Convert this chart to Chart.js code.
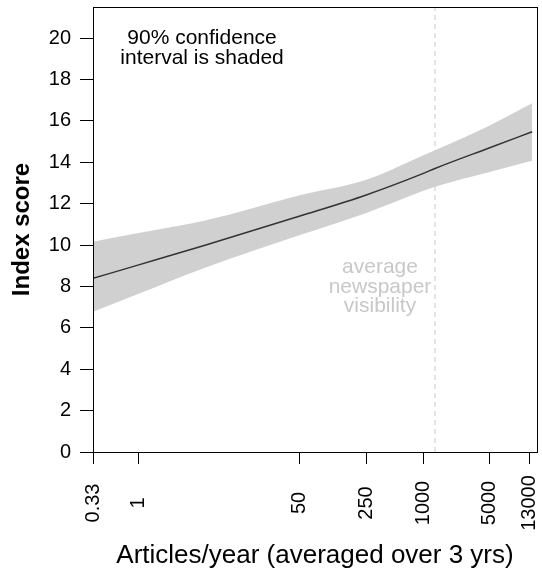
<!DOCTYPE html>
<html>
<head>
<meta charset="utf-8">
<script src="https://cdn.jsdelivr.net/npm/chart.js@4/dist/chart.umd.min.js"></script>
<style>
  html, body { margin: 0; padding: 0; background: #ffffff; }
  canvas { display: block; }
</style>
</head>
<body>
<canvas id="c" width="542" height="572"></canvas>
<script>
// ---- data ----
const articlesPerYear = [0.33, 1, 5, 50, 250, 1000, 1326, 5000, 14000];
const fittedScore     = [8.39, 9.04, 9.99, 11.40, 12.42, 13.46, 13.70, 14.70, 15.47];
const upperCI         = [10.16, 10.58, 11.18, 12.40, 13.15, 14.34, 14.58, 15.78, 16.85];
const lowerCI         = [6.78, 7.64, 8.90, 10.48, 11.55, 12.62, 12.82, 13.53, 14.07];
const xTickValues     = [0.33, 1, 50, 250, 1000, 5000, 13000];
const xTickLabels     = ['0.33', '1', '50', '250', '1000', '5000', '13000'];
const yTickMax        = 20;
const averageVisibility = 1326;
const yRange          = [0, 21.5];
const xRange          = [0.33, 15750];

const FONT = '"Liberation Sans", Arial, Helvetica, sans-serif';

const toXY = (xs, ys) => xs.map((x, i) => ({ x: x, y: ys[i] }));

const boxPlugin = {
  id: 'boxAndLabels',
  afterDraw(chart) {
    const { ctx, chartArea: a, scales } = chart;
    const xs = scales.x, ys = scales.y;
    ctx.save();
    // plot frame
    ctx.strokeStyle = '#000000';
    ctx.lineWidth = 1;
    ctx.strokeRect(Math.round(a.left) + 0.5, Math.round(a.top) + 0.5,
                   Math.round(a.right - a.left), Math.round(a.bottom - a.top));
    // rotated x tick labels, centred
    ctx.fillStyle = '#000000';
    ctx.font = '20px ' + FONT;
    ctx.textAlign = 'center';
    ctx.textBaseline = 'middle';
    xTickValues.forEach((v, i) => {
      const px = xs.getPixelForValue(v);
      ctx.save();
      ctx.translate(px, xs.top + 51);
      ctx.rotate(-Math.PI / 2);
      ctx.fillText(xTickLabels[i], 0, 0);
      ctx.restore();
    });
    // annotation: confidence note
    ctx.font = '21px ' + FONT;
    const ax = xs.getPixelForValue(4.65);
    ctx.fillText('90% confidence', ax, ys.getPixelForValue(19.97));
    ctx.fillText('interval is shaded', ax, ys.getPixelForValue(19.05));
    // annotation: average visibility
    ctx.fillStyle = '#c8c8c8';
    ctx.font = '21px ' + FONT;
    const gx = xs.getPixelForValue(349);
    ctx.fillText('average', gx, ys.getPixelForValue(8.94));
    ctx.fillText('newspaper', gx, ys.getPixelForValue(7.97));
    ctx.fillText('visibility', gx, ys.getPixelForValue(7.03));
    ctx.restore();
  }
};

new Chart(document.getElementById('c'), {
  type: 'line',
  data: {
    datasets: [
      {
        label: 'fit',
        data: toXY(articlesPerYear, fittedScore),
        borderColor: '#333333',
        borderWidth: 1.5,
        pointRadius: 0,
        fill: false,
        cubicInterpolationMode: 'monotone',
        order: 0
      },
      {
        label: 'upper',
        data: toXY(articlesPerYear, upperCI),
        borderWidth: 0,
        borderColor: 'rgba(0,0,0,0)',
        backgroundColor: '#d0d0d0',
        pointRadius: 0,
        fill: '+1',
        cubicInterpolationMode: 'monotone',
        order: 1
      },
      {
        label: 'lower',
        data: toXY(articlesPerYear, lowerCI),
        borderWidth: 0,
        borderColor: 'rgba(0,0,0,0)',
        pointRadius: 0,
        fill: false,
        cubicInterpolationMode: 'monotone',
        order: 2
      },
      {
        label: 'average',
        data: [{ x: averageVisibility, y: yRange[0] }, { x: averageVisibility, y: yRange[1] }],
        borderColor: '#c8c8c8',
        borderWidth: 1,
        borderDash: [5, 4],
        pointRadius: 0,
        fill: false,
        order: 3
      }
    ]
  },
  options: {
    responsive: false,
    animation: false,
    devicePixelRatio: 1,
    layout: { padding: { top: 7, right: 5, left: 0, bottom: 0 } },
    plugins: { legend: { display: false }, tooltip: { enabled: false } },
    scales: {
      x: {
        type: 'logarithmic',
        bounds: 'data',
        min: xRange[0],
        max: xRange[1],
        afterBuildTicks(scale) {
          scale.ticks = xTickValues.map(v => ({ value: v }));
          scale.min = xRange[0];
          scale.max = xRange[1];
        },
        afterFit(scale) {
          scale.height = 120;
          scale.paddingLeft = 0; scale.paddingRight = 0;
        },
        ticks: { display: false },
        grid: { drawOnChartArea: false, drawTicks: true, tickLength: 12, color: '#000000', lineWidth: 1 },
        border: { display: false },
        title: {
          display: true,
          text: 'Articles/year (averaged over 3 yrs)',
          color: '#000000',
          font: { family: FONT, size: 26 },
          padding: { top: 0, bottom: 1 }
        }
      },
      y: {
        type: 'linear',
        min: yRange[0],
        max: yRange[1],
        afterBuildTicks(scale) {
          scale.ticks = scale.ticks.filter(t => t.value <= yTickMax + 1e-9);
        },
        afterFit(scale) {
          scale.width = 93;
          scale.paddingTop = 0; scale.paddingBottom = 0;
        },
        ticks: { stepSize: 2, color: '#000000', font: { family: FONT, size: 20 }, padding: 9 },
        grid: { drawOnChartArea: false, drawTicks: true, tickLength: 13, color: '#000000', lineWidth: 1 },
        border: { display: false },
        title: {
          display: true,
          text: 'Index score',
          color: '#000000',
          font: { family: FONT, size: 24, weight: 'bold' },
          padding: { top: 8, bottom: 0 }
        }
      }
    }
  },
  plugins: [boxPlugin]
});
</script>
</body>
</html>
